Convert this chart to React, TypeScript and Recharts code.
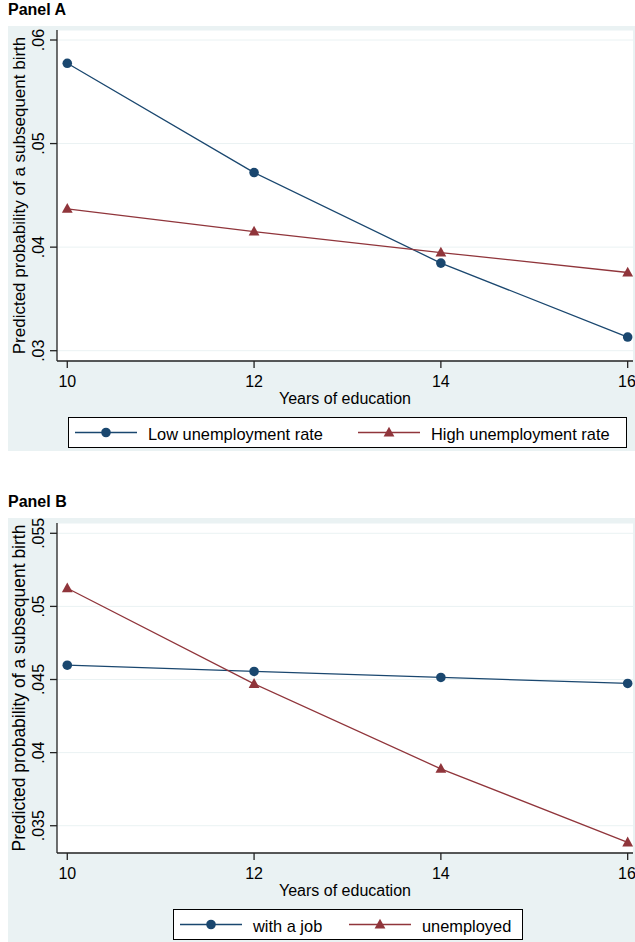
import { LineChart, Line, XAxis, YAxis, CartesianGrid } from "recharts";

const years = [10, 12, 14, 16];
const lowUnemployment = [0.05775, 0.0472, 0.03846, 0.03132];
const highUnemployment = [0.0437, 0.0415, 0.03948, 0.03755];
const withJob = [0.04598, 0.04555, 0.04514, 0.04473];
const unemployed = [0.05124, 0.0447, 0.03889, 0.03386];

const xTicks = [10, 12, 14, 16];
const yTicksA = [0.03, 0.04, 0.05, 0.06];
const yTicksB = [0.035, 0.04, 0.045, 0.05, 0.055];

const NAVY = "#1a476f";
const MAROON = "#90353b";
const BG = "#eaf2f3";
const FONT = "Arial, 'Liberation Sans', sans-serif";

const dataA = years.map((y, i) => ({ year: y, low: lowUnemployment[i], high: highUnemployment[i] }));
const dataB = years.map((y, i) => ({ year: y, job: withJob[i], unemp: unemployed[i] }));

const fmt = (v: number) => String(v).replace(/^0/, "");

function YTick({ x, y, payload }: any) {
  const tx = x - 6;
  return (
    <text
      x={tx}
      y={y}
      transform={`rotate(-90 ${tx} ${y})`}
      textAnchor="middle"
      fontSize={16}
      fontFamily={FONT}
      fill="#000"
    >
      {fmt(payload.value)}
    </text>
  );
}

function Circle(props: any) {
  const { cx, cy, index } = props;
  return <circle key={`c-${index}`} cx={cx} cy={cy} r={4.8} fill={NAVY} />;
}

function Triangle(props: any) {
  const { cx, cy, index } = props;
  return (
    <polygon
      key={`t-${index}`}
      points={`${cx},${cy - 5.8} ${cx - 5.4},${cy + 4} ${cx + 5.4},${cy + 4}`}
      fill={MAROON}
    />
  );
}

function yTitle(size: number) {
  return (props: any) => {
    const vb = props.viewBox || {};
    const tx = 17;
    const ty = (vb.y ?? 0) + (vb.height ?? 0) / 2;
    return (
      <text
        x={tx}
        y={ty}
        transform={`rotate(-90 ${tx} ${ty})`}
        textAnchor="middle"
        fontSize={size}
        fontFamily={FONT}
        fill="#000"
      >
        Predicted probability of a subsequent birth
      </text>
    );
  };
}

function xTitle(props: any) {
  const vb = props.viewBox || {};
  return (
    <text
      x={(vb.x ?? 0) + (vb.width ?? 0) / 2}
      y={(vb.y ?? 0) + 43}
      textAnchor="middle"
      fontSize={16}
      fontFamily={FONT}
      fill="#000"
    >
      Years of education
    </text>
  );
}

type LegendItem = { label: string; color: string; shape: "circle" | "triangle"; lineX: number; textX: number };

function LegendBox({ left, top, width, items }: { left: number; top: number; width: number; items: LegendItem[] }) {
  return (
    <svg
      style={{ position: "absolute", left, top }}
      width={width}
      height={31}
    >
      <rect x={0.5} y={0.5} width={width - 1} height={30} fill="#fff" stroke="#000" strokeWidth={1} />
      {items.map((it) => (
        <g key={it.label}>
          <line x1={it.lineX} x2={it.lineX + 62} y1={15.5} y2={15.5} stroke={it.color} strokeWidth={1.3} />
          {it.shape === "circle" ? (
            <circle cx={it.lineX + 31} cy={15.5} r={4.8} fill={it.color} />
          ) : (
            <polygon
              points={`${it.lineX + 31},${9.7} ${it.lineX + 25.6},${19.5} ${it.lineX + 36.4},${19.5}`}
              fill={it.color}
            />
          )}
          <text x={it.textX} y={22.5} fontSize={16.4} fontFamily={FONT} fill="#000">
            {it.label}
          </text>
        </g>
      ))}
    </svg>
  );
}

export default function App() {
  return (
    <div
      style={{
        position: "absolute",
        left: 0,
        top: 0,
        width: 635,
        height: 942,
        overflow: "hidden",
        background: "#fff",
        fontFamily: FONT,
      }}
    >
      <div style={{ position: "absolute", left: 8, top: 1, fontSize: 16, fontWeight: "bold" }}>Panel A</div>
      <div style={{ position: "absolute", left: 8, top: 26, width: 627, height: 425, background: BG }}>
        <LineChart width={627} height={425} data={dataA} margin={{ top: 4, right: 2, left: 0, bottom: 0 }}>
          <CartesianGrid vertical={false} stroke={BG} strokeWidth={1} fill="#fff" />
          <XAxis
            dataKey="year"
            type="number"
            domain={[9.89, 16.057]}
            ticks={xTicks}
            height={90}
            tickSize={7}
            tickMargin={8}
            stroke="#222"
            strokeWidth={1.3}
            tick={{ fontSize: 16, fill: "#000", fontFamily: FONT }}
            label={{ content: xTitle }}
          />
          <YAxis
            type="number"
            domain={[0.029006, 0.060966]}
            ticks={yTicksA}
            width={49}
            tickSize={7}
            tickMargin={0}
            stroke="#222"
            strokeWidth={1.3}
            tick={<YTick />}
            label={{ content: yTitle(17) }}
          />
          <Line dataKey="low" stroke={NAVY} strokeWidth={1.3} dot={Circle} isAnimationActive={false} />
          <Line dataKey="high" stroke={MAROON} strokeWidth={1.3} dot={Triangle} isAnimationActive={false} />
        </LineChart>
        <LegendBox
          left={60}
          top={391}
          width={559}
          items={[
            { label: "Low unemployment rate", color: NAVY, shape: "circle", lineX: 7, textX: 80 },
            { label: "High unemployment rate", color: MAROON, shape: "triangle", lineX: 290, textX: 363 },
          ]}
        />
      </div>

      <div style={{ position: "absolute", left: 8, top: 493, fontSize: 16, fontWeight: "bold" }}>Panel B</div>
      <div style={{ position: "absolute", left: 8, top: 518, width: 627, height: 424, background: BG }}>
        <LineChart width={627} height={423} data={dataB} margin={{ top: 5, right: 2, left: 0, bottom: 0 }}>
          <CartesianGrid vertical={false} stroke={BG} strokeWidth={1} fill="#fff" />
          <XAxis
            dataKey="year"
            type="number"
            domain={[9.89, 16.057]}
            ticks={xTicks}
            height={88}
            tickSize={7}
            tickMargin={8}
            stroke="#222"
            strokeWidth={1.3}
            tick={{ fontSize: 16, fill: "#000", fontFamily: FONT }}
            label={{ content: xTitle }}
          />
          <YAxis
            type="number"
            domain={[0.033135, 0.055704]}
            ticks={yTicksB}
            width={49}
            tickSize={7}
            tickMargin={0}
            stroke="#222"
            strokeWidth={1.3}
            tick={<YTick />}
            label={{ content: yTitle(17.5) }}
          />
          <Line dataKey="job" stroke={NAVY} strokeWidth={1.3} dot={Circle} isAnimationActive={false} />
          <Line dataKey="unemp" stroke={MAROON} strokeWidth={1.3} dot={Triangle} isAnimationActive={false} />
        </LineChart>
        <LegendBox
          left={165}
          top={391}
          width={350}
          items={[
            { label: "with a job", color: NAVY, shape: "circle", lineX: 7, textX: 80 },
            { label: "unemployed", color: MAROON, shape: "triangle", lineX: 176, textX: 249 },
          ]}
        />
      </div>
    </div>
  );
}
